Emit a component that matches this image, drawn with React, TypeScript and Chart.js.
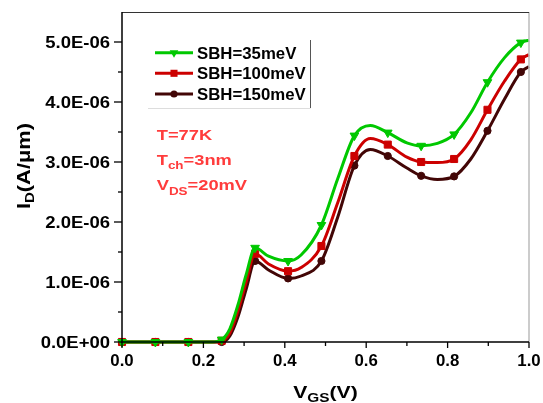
import { useEffect, useRef } from 'react';
import { Chart, registerables } from 'chart.js';

Chart.register(...registerables);

// ---- data (I_D in units of 1E-06 A/um) ----
const VGS = [0, 0.082, 0.163, 0.22, 0.245, 0.265, 0.285, 0.305, 0.327, 0.36, 0.408, 0.44, 0.49, 0.53, 0.571, 0.61, 0.653, 0.70, 0.735, 0.775, 0.816, 0.857, 0.898, 0.94, 0.98, 1.0];
const MARKER_VGS = [0, 0.082, 0.163, 0.245, 0.327, 0.408, 0.49, 0.571, 0.653, 0.735, 0.816, 0.898, 0.98];
const ID_SBH35 = [0, 0, 0, 0, 0.04, 0.22, 0.62, 1.12, 1.57, 1.43, 1.35, 1.45, 1.95, 2.72, 3.44, 3.61, 3.49, 3.32, 3.27, 3.31, 3.46, 3.82, 4.33, 4.74, 4.99, 5.03];
const ID_SBH100 = [0, 0, 0, 0, 0.02, 0.15, 0.52, 1.0, 1.47, 1.3, 1.18, 1.24, 1.6, 2.32, 3.1, 3.39, 3.29, 3.08, 3.0, 2.99, 3.05, 3.37, 3.87, 4.35, 4.71, 4.79];
const ID_SBH150 = [0, 0, 0, 0, 0, 0.1, 0.42, 0.88, 1.35, 1.2, 1.06, 1.1, 1.35, 2.08, 2.94, 3.21, 3.1, 2.9, 2.77, 2.71, 2.76, 3.05, 3.52, 4.05, 4.5, 4.59];
const SERIES_LABELS = ['SBH=35meV', 'SBH=100meV', 'SBH=150meV'];

const X_TICKS = [0, 0.2, 0.4, 0.6, 0.8, 1.0];
const X_TICK_LABELS = ['0.0', '0.2', '0.4', '0.6', '0.8', '1.0'];
const X_MINOR = [0.1, 0.3, 0.5, 0.7, 0.9];
const Y_TICKS = [0, 1, 2, 3, 4, 5];
const Y_TICK_LABELS = ['0.0E+00', '1.0E-06', '2.0E-06', '3.0E-06', '4.0E-06', '5.0E-06'];
const Y_MINOR = [0.5, 1.5, 2.5, 3.5, 4.5];

const COLORS = ['#00c800', '#cc0000', '#420606'];
const STYLES = [
  { pointStyle: 'triangle', radius: 5, rotation: 180 },
  { pointStyle: 'rect', radius: 5, rotation: 0 },
  { pointStyle: 'circle', radius: 3.6, rotation: 0 },
];

const FONT = '"Liberation Sans", Arial, sans-serif';

type Seg = { t: string; size: number; dy?: number };

function segWidth(ctx: CanvasRenderingContext2D, segs: Seg[]) {
  let w = 0;
  for (const s of segs) {
    ctx.font = `bold ${s.size}px ${FONT}`;
    w += ctx.measureText(s.t).width;
  }
  return w;
}

function drawRich(ctx: CanvasRenderingContext2D, segs: Seg[], x: number, y: number, sx: number, color: string, align: 'left' | 'center' | 'right' = 'left', rot = 0) {
  ctx.save();
  ctx.translate(x, y);
  if (rot) ctx.rotate(rot);
  ctx.scale(sx, 1);
  const w = segWidth(ctx, segs);
  let cx = align === 'left' ? 0 : align === 'center' ? -w / 2 : -w;
  ctx.fillStyle = color;
  ctx.textBaseline = 'alphabetic';
  ctx.textAlign = 'left';
  for (const s of segs) {
    ctx.font = `bold ${s.size}px ${FONT}`;
    ctx.fillText(s.t, cx, s.dy || 0);
    cx += ctx.measureText(s.t).width;
  }
  ctx.restore();
}

function drawMarker(ctx: CanvasRenderingContext2D, i: number, x: number, y: number) {
  const st = STYLES[i];
  const r = st.radius;
  ctx.fillStyle = COLORS[i];
  ctx.beginPath();
  if (st.pointStyle === 'triangle') {
    ctx.moveTo(x, y + r);
    ctx.lineTo(x - r * 0.866, y - r / 2);
    ctx.lineTo(x + r * 0.866, y - r / 2);
    ctx.closePath();
  } else if (st.pointStyle === 'rect') {
    const s = r * Math.SQRT1_2;
    ctx.rect(x - s, y - s, 2 * s, 2 * s);
  } else {
    ctx.arc(x, y, r, 0, Math.PI * 2);
  }
  ctx.fill();
}

const decorPlugin = {
  id: 'decor',
  afterDraw(chart: any) {
    const ctx: CanvasRenderingContext2D = chart.ctx;
    const { left, right, top, bottom } = chart.chartArea;
    const xs = chart.scales.x;
    const ys = chart.scales.y;
    ctx.save();
    // frame
    ctx.lineCap = 'butt';
    ctx.strokeStyle = '#bbbbbb';
    ctx.lineWidth = 1.5;
    ctx.beginPath();
    ctx.moveTo(right, top);
    ctx.lineTo(right, bottom);
    ctx.stroke();
    ctx.strokeStyle = '#333333';
    ctx.lineWidth = 1;
    ctx.beginPath();
    ctx.moveTo(left, top + 0.5);
    ctx.lineTo(right, top + 0.5);
    ctx.stroke();
    ctx.strokeStyle = '#000';
    ctx.lineWidth = 1.5;
    ctx.beginPath();
    ctx.moveTo(left, top);
    ctx.lineTo(left, bottom);
    ctx.lineTo(right, bottom);
    ctx.stroke();

    // y ticks
    ctx.lineWidth = 1.3;
    for (const v of Y_TICKS) {
      const py = ys.getPixelForValue(v);
      ctx.beginPath();
      ctx.moveTo(left - 8, py);
      ctx.lineTo(left, py);
      ctx.stroke();
    }
    for (const v of Y_MINOR) {
      const py = ys.getPixelForValue(v);
      ctx.beginPath();
      ctx.moveTo(left - 4, py);
      ctx.lineTo(left, py);
      ctx.stroke();
    }
    // x ticks
    for (const v of X_TICKS) {
      const px = xs.getPixelForValue(v);
      ctx.beginPath();
      ctx.moveTo(px, bottom);
      ctx.lineTo(px, bottom + 6);
      ctx.stroke();
    }
    for (const v of X_MINOR) {
      const px = xs.getPixelForValue(v);
      ctx.beginPath();
      ctx.moveTo(px, bottom);
      ctx.lineTo(px, bottom + 4);
      ctx.stroke();
    }

    // tick labels
    Y_TICKS.forEach((v, i) => {
      const py = ys.getPixelForValue(v);
      drawRich(ctx, [{ t: Y_TICK_LABELS[i], size: 16.5 }], left - 12, py + 6, 1.12, '#000', 'right');
    });
    X_TICKS.forEach((v, i) => {
      const px = xs.getPixelForValue(v);
      drawRich(ctx, [{ t: X_TICK_LABELS[i], size: 16 }], px, bottom + 24, 1.05, '#000', 'center');
    });

    // axis titles
    drawRich(ctx, [{ t: 'V', size: 16.5 }, { t: 'GS', size: 12, dy: 4 }, { t: '(V)', size: 16.5 }], (left + right) / 2, 398, 1.28, '#000', 'center');
    drawRich(ctx, [{ t: 'I', size: 17.5 }, { t: 'D', size: 12, dy: 4 }, { t: '(A/\u03bcm)', size: 17.5 }], 29.5, 166, 1.25, '#000', 'center', -Math.PI / 2);

    // legend
    const legX0 = 155, legX1 = 193;
    const rowsY = [52.7, 73.3, 94];
    ctx.strokeStyle = '#555';
    ctx.lineWidth = 1;
    ctx.beginPath();
    ctx.moveTo(310.5, 40);
    ctx.lineTo(310.5, 108);
    ctx.stroke();
    ctx.strokeStyle = '#dddddd';
    ctx.beginPath();
    ctx.moveTo(148, 108.5);
    ctx.lineTo(310.5, 108.5);
    ctx.stroke();
    SERIES_LABELS.forEach((lab, i) => {
      const y = rowsY[i];
      ctx.strokeStyle = COLORS[i];
      ctx.lineWidth = 3;
      ctx.beginPath();
      ctx.moveTo(legX0, y);
      ctx.lineTo(legX1, y);
      ctx.stroke();
      drawMarker(ctx, i, (legX0 + legX1) / 2, y);
      drawRich(ctx, [{ t: lab, size: 16.8 }], 197, y + 6, 1.0, '#000', 'left');
    });

    // annotation
    const red = '#ff3c3c';
    drawRich(ctx, [{ t: 'T=77K', size: 15 }], 156.7, 139.5, 1.22, red);
    drawRich(ctx, [{ t: 'T', size: 15 }, { t: 'ch', size: 11, dy: 4 }, { t: '=3nm', size: 15 }], 156.7, 165, 1.22, red);
    drawRich(ctx, [{ t: 'V', size: 15 }, { t: 'DS', size: 11, dy: 4.5 }, { t: '=20mV', size: 15 }], 156.7, 190, 1.22, red);
    ctx.restore();
  },
};

export default function App() {
  const ref = useRef<HTMLCanvasElement | null>(null);
  useEffect(() => {
    if (!ref.current) return;
    const series = [ID_SBH35, ID_SBH100, ID_SBH150];
    const datasets = series.map((vals, i) => ({
      label: SERIES_LABELS[i],
      data: VGS.map((x, k) => ({ x, y: vals[k] })),
      borderColor: COLORS[i],
      backgroundColor: COLORS[i],
      borderWidth: 3,
      pointStyle: STYLES[i].pointStyle,
      pointRotation: STYLES[i].rotation,
      pointRadius: (c: any) => (MARKER_VGS.includes(VGS[c.dataIndex]) ? STYLES[i].radius : 0),
      pointBorderWidth: 1,
      cubicInterpolationMode: 'monotone',
      clip: false,
    }));
    const chart = new Chart(ref.current, {
      type: 'line',
      data: { datasets } as any,
      options: {
        responsive: false,
        animation: false,
        devicePixelRatio: 1,
        layout: { padding: { left: 0, right: 14, top: 12, bottom: 0 } },
        plugins: { legend: { display: false }, tooltip: { enabled: false } },
        scales: {
          x: {
            type: 'linear', min: 0, max: 1,
            ticks: { display: false }, grid: { display: false }, border: { display: false },
            afterFit: (s: any) => { s.height = 61; },
          },
          y: {
            type: 'linear', min: 0, max: 5.5,
            ticks: { display: false }, grid: { display: false }, border: { display: false },
            afterFit: (s: any) => { s.width = 122; },
          },
        },
      } as any,
      plugins: [decorPlugin],
    });
    return () => chart.destroy();
  }, []);
  return (
    <div style={{ position: 'fixed', left: 0, top: 0, width: 543, height: 403, background: '#fff' }}>
      <canvas ref={ref} width={543} height={403} style={{ display: 'block' }} />
    </div>
  );
}
